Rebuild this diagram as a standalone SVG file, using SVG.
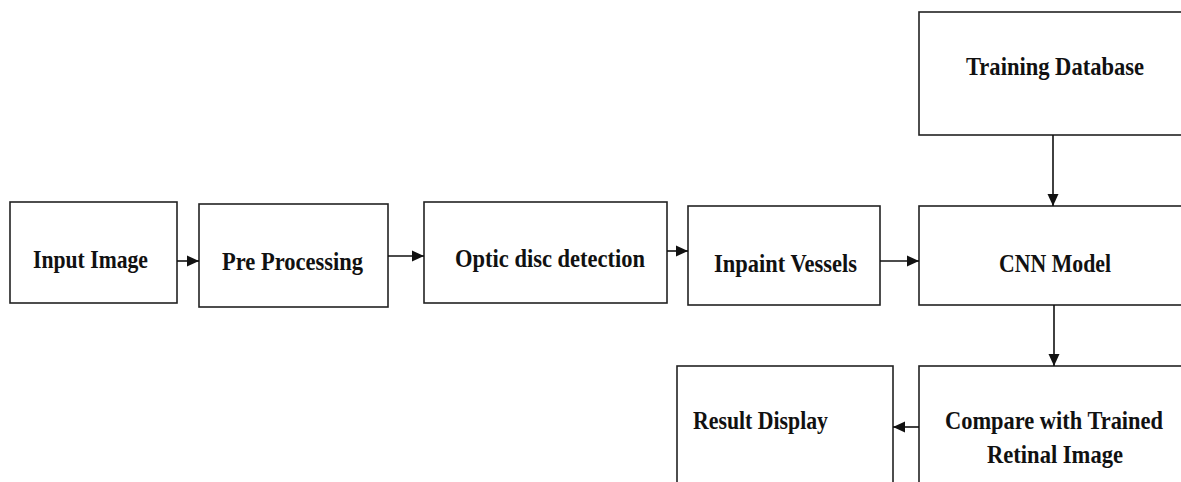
<svg xmlns="http://www.w3.org/2000/svg" width="1181" height="482" viewBox="0 0 1181 482">
  <style>
    .box { fill: #fff; stroke: #222; stroke-width: 1.6; }
    .lbl { font-family: "Liberation Serif", "Times New Roman", serif; font-weight: bold; font-size: 26px; fill: #111; }
    .conn { stroke: #111; stroke-width: 1.6; fill: none; marker-end: url(#head); }
  </style>
  <defs>
    <marker id="head" viewBox="0 0 12 12" refX="12" refY="6" markerWidth="12" markerHeight="12" markerUnits="userSpaceOnUse" orient="auto">
      <path d="M0,0.5 L12,6 L0,11.5 Z" fill="#111"/>
    </marker>
  </defs>
  <rect width="1181" height="482" fill="#fff"/>

  <g id="input-image">
    <rect class="box" x="10" y="202" width="167" height="101"/>
    <text class="lbl" x="33" y="268" textLength="115" lengthAdjust="spacingAndGlyphs">Input Image</text>
  </g>
  <g id="pre-processing">
    <rect class="box" x="199" y="204" width="189" height="103"/>
    <text class="lbl" x="222" y="270" textLength="141" lengthAdjust="spacingAndGlyphs">Pre Processing</text>
  </g>
  <g id="optic-disc-detection">
    <rect class="box" x="424" y="202" width="243" height="101"/>
    <text class="lbl" x="455" y="267" textLength="190" lengthAdjust="spacingAndGlyphs">Optic disc  detection</text>
  </g>
  <g id="inpaint-vessels">
    <rect class="box" x="688" y="206" width="192" height="99"/>
    <text class="lbl" x="714" y="272" textLength="143" lengthAdjust="spacingAndGlyphs">Inpaint Vessels</text>
  </g>
  <g id="training-database">
    <rect class="box" x="919" y="12" width="270" height="123"/>
    <text class="lbl" x="966" y="75" textLength="178" lengthAdjust="spacingAndGlyphs">Training Database</text>
  </g>
  <g id="cnn-model">
    <rect class="box" x="919" y="206" width="270" height="99"/>
    <text class="lbl" x="999" y="272" textLength="112" lengthAdjust="spacingAndGlyphs">CNN Model</text>
  </g>
  <g id="compare">
    <rect class="box" x="919" y="366" width="270" height="130"/>
    <text class="lbl" x="945" y="429" textLength="218" lengthAdjust="spacingAndGlyphs">Compare with Trained</text>
    <text class="lbl" x="987" y="463" textLength="136" lengthAdjust="spacingAndGlyphs">Retinal Image</text>
  </g>
  <g id="result-display">
    <rect class="box" x="677" y="366" width="216" height="130"/>
    <text class="lbl" x="693" y="429" textLength="135" lengthAdjust="spacingAndGlyphs">Result Display</text>
  </g>

  <g id="connectors">
    <line class="conn" x1="177" y1="261" x2="199" y2="261"/>
    <line class="conn" x1="388" y1="256" x2="424" y2="256"/>
    <line class="conn" x1="667" y1="251" x2="688" y2="251"/>
    <line class="conn" x1="880" y1="261" x2="919" y2="261"/>
    <line class="conn" x1="1053" y1="135" x2="1053" y2="206"/>
    <line class="conn" x1="1054" y1="305" x2="1054" y2="366"/>
    <line class="conn" x1="919" y1="427" x2="893" y2="427"/>
  </g>
</svg>
